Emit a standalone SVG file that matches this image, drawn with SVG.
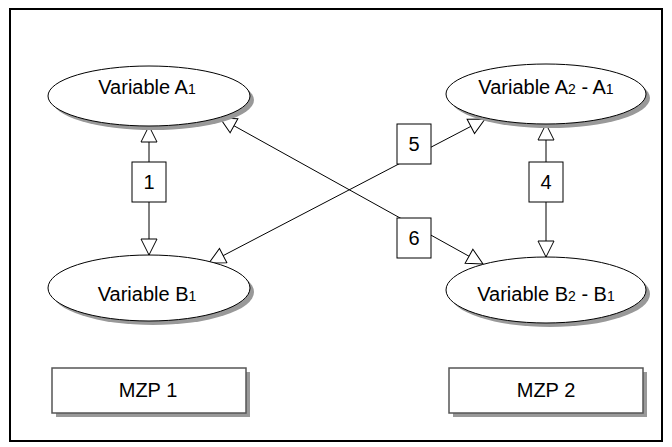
<svg xmlns="http://www.w3.org/2000/svg" width="672" height="447" viewBox="0 0 672 447">
<style>
text{font-family:"Liberation Sans",Arial,sans-serif;font-size:20px;fill:#000;text-anchor:middle}
.sub{font-size:14px}
.ell{fill:#fff;stroke:#000;stroke-width:1}
.sh{fill:#999;stroke:none}
.box{fill:#fff;stroke:#000;stroke-width:1}
.mzp{fill:#fff;stroke:#555;stroke-width:1.5}
.con{stroke:#000;stroke-width:1;fill:none;marker-start:url(#tri);marker-end:url(#tri)}
</style>
<defs>
<marker id="tri" markerUnits="userSpaceOnUse" markerWidth="18" markerHeight="18" viewBox="-1 -1 18 18" refX="16" refY="8" orient="auto-start-reverse">
<path d="M0,0 L16,8 L0,16 Z" fill="#fff" stroke="#000" stroke-width="1"/>
</marker>
</defs>
<rect x="10" y="9" width="652" height="432" fill="#fff" stroke="#000" stroke-width="2"/>
<g id="connectors">
<line class="con" x1="149" y1="126" x2="149" y2="255"/>
<line class="con" x1="546" y1="124" x2="546" y2="257"/>
<line class="con" x1="220" y1="118" x2="483" y2="264"/>
<line class="con" x1="209" y1="263" x2="485" y2="119"/>
</g>
<g id="varA1">
<ellipse class="sh" cx="153" cy="100" rx="101" ry="30"/>
<ellipse class="ell" cx="149" cy="96" rx="101" ry="30"/>
<text x="147" y="94">Variable A<tspan class="sub">1</tspan></text>
</g>
<g id="varB1">
<ellipse class="sh" cx="153" cy="292" rx="101" ry="33"/>
<ellipse class="ell" cx="149" cy="288" rx="101" ry="33"/>
<text x="147" y="301">Variable B<tspan class="sub">1</tspan></text>
</g>
<g id="varA2A1">
<ellipse class="sh" cx="550" cy="98" rx="100" ry="30"/>
<ellipse class="ell" cx="546" cy="94" rx="100" ry="30"/>
<text x="546" y="94">Variable A<tspan class="sub">2</tspan> - A<tspan class="sub">1</tspan></text>
</g>
<g id="varB2B1">
<ellipse class="sh" cx="550" cy="294" rx="100" ry="33"/>
<ellipse class="ell" cx="546" cy="290" rx="100" ry="33"/>
<text x="546" y="301">Variable B<tspan class="sub">2</tspan> - B<tspan class="sub">1</tspan></text>
</g>
<g id="box1">
<rect class="box" x="132" y="162" width="34" height="40"/>
<text x="149" y="189">1</text>
</g>
<g id="box4">
<rect class="box" x="529" y="162" width="34" height="40"/>
<text x="546" y="189">4</text>
</g>
<g id="box5">
<rect class="box" x="397" y="124" width="34" height="40"/>
<text x="414" y="151">5</text>
</g>
<g id="box6">
<rect class="box" x="397" y="218" width="34" height="40"/>
<text x="414" y="245">6</text>
</g>
<g id="mzp1">
<rect class="sh" x="56" y="372" width="194" height="45"/>
<rect class="mzp" x="52" y="368" width="194" height="45"/>
<text x="148" y="397">MZP 1</text>
</g>
<g id="mzp2">
<rect class="sh" x="453" y="372" width="194" height="45"/>
<rect class="mzp" x="449" y="368" width="194" height="45"/>
<text x="546" y="397">MZP 2</text>
</g>
</svg>
